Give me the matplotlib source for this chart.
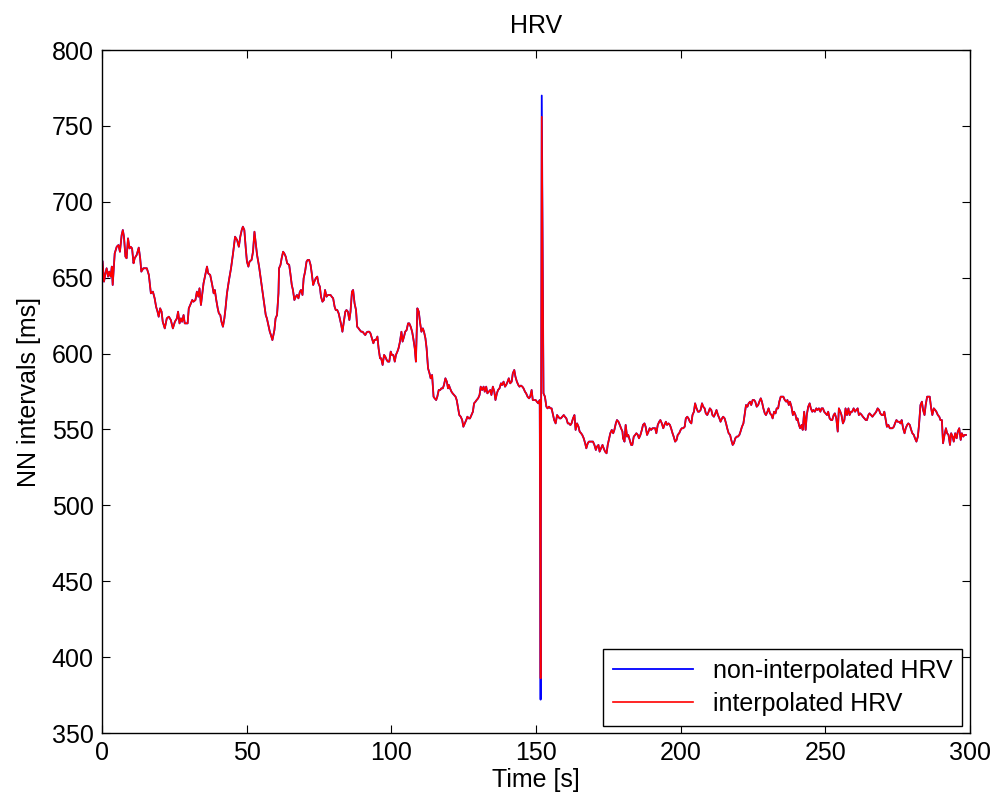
import matplotlib
matplotlib.use("Agg")
import matplotlib.pyplot as plt

# NN intervals (time in s, interval in ms)
time_s = [
    0.2, 0.7, 1.2, 1.6, 2.1, 2.5, 3.0, 3.4, 3.7, 4.4,
    5.1, 5.7, 6.2, 6.8, 7.2, 7.6, 8.1, 8.5, 9.0, 9.5,
    9.9, 10.4, 10.9, 11.3, 12.0, 12.7, 13.2, 13.6, 14.3, 15.5,
    16.2, 16.9, 17.6, 18.2, 18.7, 19.2, 19.6, 20.1, 20.6, 21.0,
    21.7, 22.4, 23.1, 23.8, 24.5, 25.2, 25.9, 26.3, 26.8, 27.3,
    27.7, 28.2, 28.6, 29.1, 29.6, 30.0, 30.5, 31.2, 31.6, 32.3,
    32.8, 33.3, 33.7, 34.2, 34.6, 35.1, 35.8, 36.3, 36.7, 37.4,
    38.1, 38.6, 39.0, 39.5, 40.0, 40.4, 40.9, 41.3, 41.8, 42.3,
    42.7, 43.2, 43.9, 44.6, 45.3, 46.0, 46.7, 47.3, 47.8, 48.3,
    48.7, 49.2, 49.7, 50.1, 50.6, 51.0, 51.7, 52.2, 52.7, 53.1,
    53.6, 54.3, 54.7, 55.2, 55.9, 56.6, 57.0, 57.5, 58.0, 58.4,
    58.9,
    59.6, 60.0, 60.5, 61.0, 61.2, 61.7, 62.1, 62.6, 63.0, 63.5,
    64.0, 64.7, 65.1, 65.6, 66.0, 66.5, 67.0, 67.4, 67.9, 68.4,
    68.8, 69.3, 69.7, 70.2, 70.7, 71.1, 71.6, 72.1, 72.5, 73.0,
    73.4, 73.9, 74.4, 74.8, 75.3, 75.7, 76.2, 76.7, 77.1, 77.6,
    78.1, 78.5, 79.0, 79.4, 79.9, 80.4, 80.8, 81.3, 81.8, 82.2,
    82.7, 83.1, 83.6, 84.1, 84.5, 85.0, 85.5, 85.9, 86.4, 86.8,
    87.3, 87.8, 88.2, 88.7, 89.1, 89.6, 90.1, 90.5, 91.0, 91.5,
    91.9, 92.4, 92.8, 93.3, 93.8, 94.2, 94.7, 95.2, 95.6, 96.1,
    96.5, 97.0, 97.5, 97.9, 98.4, 98.8, 99.3, 99.8, 100.2, 100.7,
    101.2, 101.6, 102.1, 102.5, 103.0, 103.5, 103.9, 104.4, 104.8, 105.3,
    105.8, 106.2, 106.7, 107.2, 107.6, 108.1, 108.5, 109.0, 109.5, 109.9,
    110.4, 110.9, 111.3, 111.8, 112.2, 112.7, 113.2, 113.6, 114.1, 114.6,
    115.0, 115.5, 115.9, 116.4, 116.9, 117.3, 117.8, 118.2, 118.7, 119.2,
    119.6,
    119.9, 120.3, 120.8, 121.2, 121.7, 122.2, 122.6, 123.1, 123.5, 124.0,
    124.5, 124.9, 125.4, 125.9, 126.3, 126.8, 127.2, 127.7, 128.2, 128.6,
    129.1, 129.5, 130.0, 130.5, 130.9, 131.4, 131.9, 132.3, 132.8, 133.2,
    133.7, 134.2, 134.6, 135.1, 135.6, 136.0, 136.5, 136.9, 137.4, 137.9,
    138.3, 138.8, 139.3, 139.7, 140.2, 140.6, 141.1, 141.6, 142.0, 142.5,
    142.9, 143.4, 143.9, 144.3, 144.8, 145.3, 145.7, 146.2, 146.6, 147.1,
    147.6, 148.0, 148.5, 148.9, 149.4, 149.9, 150.3, 150.8, 151.3,
    151.6, 152.0,
    152.6, 153.1, 153.6, 154.0, 154.5, 155.0, 155.4, 155.9, 156.3, 156.8,
    157.3, 157.7, 158.2, 158.6, 159.1, 159.6, 160.0, 160.5, 161.0, 161.4,
    161.9, 162.3, 162.8, 163.3, 163.7, 164.2, 164.7, 165.1, 165.6, 166.0,
    166.5, 167.0, 167.4, 167.9, 168.3, 168.8, 169.3, 169.7, 170.2, 170.7,
    171.1, 171.6, 172.0, 172.5, 173.0, 173.4, 173.9, 174.4, 174.8, 175.3,
    175.7, 176.2, 176.7, 177.1, 177.6, 178.0, 178.5, 179.0, 179.4, 179.9,
    180.1, 180.6, 181.0, 181.5, 181.9, 182.4, 182.9, 183.3, 183.8, 184.3,
    184.7, 185.2, 185.6, 186.1, 186.6, 187.0, 187.5, 187.9, 188.4, 188.9,
    189.3, 189.8, 190.3, 190.7, 191.2, 191.6, 192.1, 192.6, 193.0, 193.5,
    194.0, 194.4, 194.9, 195.3, 195.8, 196.3, 196.7, 197.2, 197.6, 198.1,
    198.6, 199.0, 199.5, 200.0, 200.4, 200.9, 201.4, 201.8, 202.3, 202.7,
    203.2, 203.7, 204.1, 204.6, 205.0, 205.5, 206.0, 206.4, 206.9, 207.4,
    207.8, 208.3, 208.7, 209.2, 209.7, 210.1, 210.6, 211.0, 211.5, 212.0,
    212.4, 212.9, 213.4, 213.8, 214.3, 214.7, 215.2, 215.7, 216.1, 216.6,
    217.1, 217.5, 218.0, 218.4, 218.9, 219.4, 219.8, 220.3, 220.7, 221.2,
    221.7, 222.1, 222.6, 223.1, 223.5, 224.0, 224.4, 224.9, 225.4, 225.8,
    226.3, 226.8, 227.2, 227.7, 228.1, 228.6, 229.1, 229.5, 230.0, 230.4,
    230.9, 231.4, 231.8, 232.3, 232.8, 233.2, 233.7, 234.1, 234.6, 235.1,
    235.5, 236.0, 236.5, 236.9, 237.4, 237.8, 238.3, 238.8, 239.2, 239.7,
    240.1,
    240.4, 240.9, 241.3, 241.8, 242.2, 242.7, 243.2, 243.6, 244.1, 244.6,
    245.0, 245.5, 245.9, 246.4, 246.9, 247.3, 247.8, 248.3, 248.7, 249.2,
    249.6, 250.1, 250.6, 251.0, 251.5, 252.0, 252.4, 252.9, 253.3, 253.8,
    254.3, 254.7, 255.2, 255.6, 256.1, 256.6, 257.0, 257.5, 258.0, 258.4,
    258.9, 259.3, 259.8, 260.3, 260.7, 261.2, 261.6, 262.1, 262.6, 263.0,
    263.5, 264.0, 264.4, 264.9, 265.3, 265.8, 266.3, 266.7, 267.2, 267.6,
    268.1, 268.6, 269.0, 269.5, 270.0, 270.4, 270.9, 271.3, 271.8, 272.3,
    272.7, 273.2, 273.7, 274.1, 274.6, 275.0, 275.5, 276.0, 276.4, 276.9,
    277.4, 277.8, 278.3, 278.7, 279.2, 279.7, 280.1, 280.6, 281.0, 281.5,
    282.0, 282.4, 282.9, 283.4, 283.8, 284.3, 284.7, 285.2, 285.7, 286.1,
    286.6, 287.0, 287.5, 288.0, 288.4, 288.9, 289.4, 289.8, 290.3, 290.7,
    291.2, 291.7, 292.1, 292.6, 293.1, 293.5, 294.0, 294.4, 294.9, 295.4,
    295.8, 296.3, 296.8, 297.2, 297.7, 298.1, 298.6,
]

nn_ms = [
    660.6, 647.4, 652.9, 656.2, 650.7, 654.0, 650.7, 657.3, 645.2, 666.0,
    670.4, 671.5, 667.1, 678.1, 681.4, 677.0, 663.9, 662.8, 675.9, 669.3,
    670.4, 669.3, 659.5, 662.8, 665.0, 669.8, 662.8, 654.0, 656.2, 656.2,
    651.8, 639.7, 640.8, 636.4, 630.9, 627.6, 624.3, 629.8, 627.6, 621.0,
    616.6, 623.2, 624.3, 622.1, 616.6, 621.0, 623.2, 627.6, 619.9, 623.2,
    621.0, 625.4, 619.9, 619.9, 619.9, 629.8, 632.0, 635.3, 634.2, 635.3,
    640.8, 637.5, 643.0, 632.0, 638.6, 646.3, 652.9, 657.3, 652.9, 651.8,
    645.2, 639.7, 641.9, 635.3, 629.8, 626.5, 625.4, 621.0, 617.7, 623.2,
    629.8, 639.7, 648.5, 656.2, 666.0, 677.0, 674.8, 670.4, 677.0, 681.4,
    683.6, 681.4, 669.3, 660.6, 657.3, 660.6, 661.7, 667.1, 680.3, 673.7,
    665.0, 657.3, 651.8, 645.2, 635.3, 625.4, 623.2, 618.8, 614.4, 612.2,
    608.9,
    615.5, 623.2, 625.4, 639.7, 656.2, 658.4, 662.8, 667.1, 666.0, 663.9,
    659.5, 658.4, 652.9, 645.2, 641.9, 635.3, 637.5, 638.6, 636.4, 640.8,
    641.9, 638.6, 649.6, 654.0, 660.6, 661.7, 661.7, 658.4, 652.9, 645.2,
    647.4, 649.6, 650.7, 646.3, 644.1, 637.5, 634.2, 635.3, 641.9, 637.5,
    638.6, 638.6, 638.6, 637.5, 636.4, 630.9, 628.7, 628.7, 626.5, 623.2,
    618.8, 614.4, 621.0, 627.6, 628.7, 627.6, 622.1, 627.6, 640.8, 641.9,
    633.1, 628.7, 617.7, 616.6, 615.5, 614.4, 614.4, 613.3, 612.2, 614.0,
    614.4, 614.4, 613.3, 610.0, 606.8, 609.0, 609.0, 611.2, 603.5, 596.9,
    596.9, 592.5, 599.1, 598.0, 595.8, 594.7, 594.7, 601.3, 599.1, 599.1,
    594.7, 599.1, 601.3, 603.5, 607.9, 614.4, 607.9, 611.2, 614.4, 615.5,
    619.9, 619.9, 617.7, 614.4, 610.0, 603.5, 594.7, 629.8, 627.6, 621.0,
    614.4, 616.6, 614.4, 610.0, 603.5, 590.3, 587.0, 583.7, 585.9, 571.6,
    570.5, 569.4, 571.6, 576.0, 576.0, 577.1, 577.1, 579.3, 583.7, 581.5,
    577.1,
    579.3, 577.1, 574.9, 573.8, 572.7, 571.6, 569.4, 563.9, 559.5, 558.4,
    556.2, 551.8, 554.0, 556.2, 558.4, 557.3, 557.3, 559.5, 561.7, 567.2,
    568.3, 569.4, 570.5, 572.7, 578.2, 576.0, 578.2, 574.9, 578.2, 573.8,
    574.9, 576.0, 572.7, 578.2, 574.9, 569.4, 573.8, 576.0, 577.1, 580.4,
    579.3, 581.5, 578.2, 579.3, 581.5, 583.7, 580.4, 581.5, 587.0, 589.2,
    584.8, 581.5, 579.3, 578.2, 578.9, 578.2, 577.1, 574.9, 573.8, 571.6,
    570.5, 571.6, 576.0, 569.4, 569.4, 569.4, 568.3, 567.2, 569.4,
    372.0, 770.0,
    573.8, 571.6, 565.0, 563.9, 565.0, 563.9, 563.9, 559.5, 556.2, 554.0,
    559.5, 558.4, 557.3, 557.3, 558.4, 559.5, 558.4, 557.3, 554.0, 554.0,
    552.9, 554.0, 557.3, 559.5, 549.7, 554.0, 551.8, 548.6, 547.5, 546.4,
    544.2, 540.9, 537.6, 540.9, 542.0, 542.0, 542.0, 542.0, 539.8, 536.5,
    538.7, 539.8, 535.4, 537.6, 539.8, 537.6, 535.4, 534.3, 539.8, 544.2,
    547.5, 549.7, 547.5, 549.7, 554.0, 556.2, 555.1, 552.9, 550.8, 548.6,
    544.2, 542.0, 553.0, 545.3, 546.4, 543.1, 539.8, 539.8, 545.3, 546.4,
    547.5, 546.4, 544.2, 546.4, 549.7, 553.0, 554.0, 551.8, 546.4, 548.6,
    550.8, 549.7, 550.8, 550.8, 550.8, 547.5, 553.0, 555.1, 556.2, 554.0,
    550.8, 553.0, 555.1, 553.0, 554.0, 553.0, 550.8, 547.5, 545.3, 542.0,
    543.1, 546.4, 547.5, 549.7, 550.8, 550.8, 551.8, 557.3, 558.4, 557.3,
    555.1, 554.0, 559.5, 561.7, 567.2, 563.9, 561.7, 561.7, 562.8, 567.2,
    565.0, 563.9, 560.6, 559.5, 561.7, 563.9, 562.8, 559.5, 558.4, 560.6,
    562.8, 559.5, 557.3, 555.1, 557.3, 558.4, 557.3, 554.0, 550.8, 547.5,
    546.4, 543.1, 539.8, 540.9, 544.2, 545.3, 545.3, 546.4, 548.6, 551.8,
    554.0, 559.5, 566.1, 565.0, 567.2, 568.3, 566.1, 569.4, 569.4, 568.3,
    565.0, 566.1, 568.3, 570.5, 568.3, 563.9, 560.6, 559.5, 561.7, 563.9,
    560.6, 559.5, 557.3, 561.7, 560.6, 563.9, 563.9, 568.3, 571.6, 571.6,
    571.6, 569.4, 568.3, 569.4, 566.1, 568.3, 565.0, 559.5, 561.7, 559.5,
    556.2,
    557.3, 553.0, 550.8, 553.0, 549.7, 561.7, 549.7, 559.5, 565.0, 567.2,
    563.9, 561.7, 562.8, 561.7, 563.9, 562.8, 563.9, 561.7, 563.9, 563.9,
    561.7, 560.6, 559.5, 561.7, 557.3, 556.2, 556.2, 559.5, 560.6, 557.3,
    548.6, 563.9, 561.7, 559.5, 554.0, 556.2, 563.9, 559.5, 563.9, 559.5,
    561.7, 561.7, 563.9, 561.7, 562.8, 563.9, 559.5, 560.6, 559.5, 558.4,
    557.3, 556.2, 556.2, 559.5, 560.6, 559.5, 558.4, 559.5, 560.6, 561.7,
    563.9, 562.8, 560.6, 559.5, 559.5, 561.7, 556.2, 551.8, 553.0, 550.8,
    550.8, 550.8, 551.8, 554.0, 556.2, 555.1, 555.1, 554.0, 556.2, 550.8,
    547.5, 550.8, 553.0, 554.0, 553.0, 549.7, 547.5, 546.4, 544.2, 542.0,
    545.3, 553.0, 566.1, 568.3, 562.8, 559.5, 566.1, 571.6, 571.6, 571.6,
    563.9, 559.5, 563.9, 562.8, 561.7, 559.5, 558.4, 556.2, 556.2, 540.9,
    546.4, 550.8, 547.5, 546.4, 539.8, 547.5, 545.3, 542.0, 547.5, 544.2,
    548.6, 550.8, 543.1, 547.5, 545.3, 546.4, 546.4,
]

# the interpolated series follows the raw one except at the artefact spike
spike_times = [151.6, 152.0]
spike_interp = [386.0, 756.0]

nn_interp = list(nn_ms)
for st, sv in zip(spike_times, spike_interp):
    nn_interp[time_s.index(st)] = sv

plt.rcParams['font.family'] = ['Liberation Sans', 'DejaVu Sans']

fig = plt.figure(figsize=(9.94, 8.08), dpi=100)
ax = fig.add_axes([0.1026, 0.0928, 0.8732, 0.8453])

ax.plot(time_s, nn_ms, color='blue', lw=1.3, label='non-interpolated HRV')
ax.plot(time_s, nn_interp, color='red', lw=1.2, label='interpolated HRV')

ax.set_xlim(0, 300)
ax.set_ylim(350, 800)
ax.set_xticks(range(0, 301, 50))
ax.set_yticks(range(350, 801, 50))
ax.tick_params(direction='in', top=True, right=True, length=6, width=0.8,
               labelsize=18, pad=6)
for sp in ax.spines.values():
    sp.set_linewidth(1.0)

ax.set_title('HRV', fontsize=18, pad=12)
ax.set_xlabel('Time [s]', fontsize=18, labelpad=2)
ax.set_ylabel('NN intervals [ms]', fontsize=18, labelpad=8)

leg = ax.legend(loc='lower right', fontsize=18, handlelength=3.2,
                fancybox=False, edgecolor='black', framealpha=1,
                borderaxespad=0.3, borderpad=0.4, labelspacing=0.35)
leg.get_frame().set_linewidth(1.0)

fig.savefig('out.png', dpi=100)
